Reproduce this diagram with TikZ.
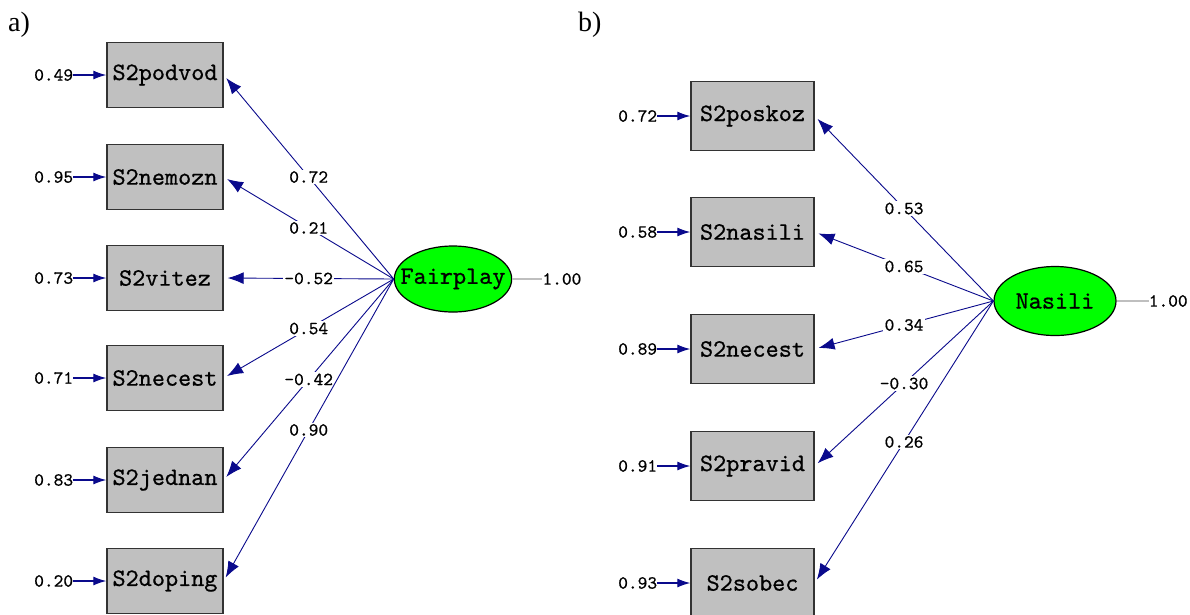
\documentclass[tikz,border=0pt]{standalone}
\usepackage{fontspec}
\setmainfont{Liberation Serif}
\newfontfamily\lisrel{lmmono10-regular.otf}[FakeBold=0.7]
\usetikzlibrary{shapes.geometric,arrows.meta,positioning}
\definecolor{path}{HTML}{0A0A8C}
\definecolor{boxgray}{HTML}{C0C0C0}
\definecolor{latgreen}{HTML}{00FF00}
\tikzset{
    obs/.style={draw=black!80, line width=1.4pt, fill=boxgray, inner sep=0pt,
        font=\lisrel\fontsize{25}{25}\selectfont},
    latent/.style={ellipse, draw=black, line width=1.2pt, fill=latgreen,
        inner xsep=-11pt, inner ysep=0pt, font=\lisrel\fontsize{25}{25}\selectfont},
    coef/.style={fill=white, inner sep=1.5pt, font=\lisrel\fontsize{18.5}{18.5}\selectfont},
    errlabel/.style={inner sep=0pt, font=\lisrel\fontsize{18.5}{18.5}\selectfont},
    loadarrow/.style={draw=path, line width=0.9pt, shorten >=4pt,
        -{Latex[length=16pt,width=12pt]}},
    errarrow/.style={draw=path, line width=1.2pt,
        -{Latex[length=13pt,width=9pt]}},
    varline/.style={draw=black!25, line width=1.1pt}
}
\newcommand{\indicator}[6]{
    \node[obs, minimum width=#5, minimum height=#6] (#1) at (#2) {#3};
    \node[errlabel, left=33pt of #1] (#1e) {#4};
    \draw[errarrow] (#1e) -- (#1);
}
\newcommand{\loading}[3]{
    \draw[loadarrow] (#1.west) -- node[coef]{#3} (#2.east);
}

\begin{document}
\begin{tikzpicture}[x=1pt, y=-1pt]
	\useasboundingbox (0,0) rectangle (1190,614);
	\fill[white] (0,0) rectangle (1190,614);

	\node[anchor=base west, inner sep=0pt, font=\fontsize{28}{28}\selectfont] (parta) at (8,31) {a)};
	\node[anchor=base west, inner sep=0pt, font=\fontsize{28}{28}\selectfont] (partb) at (578,31) {b)};

	\indicator{podvod}{165,75}{S2podvod}{0.49}{116}{65};
	\indicator{nemozn}{165,177}{S2nemozn}{0.95}{116}{65};
	\indicator{vitez}{165,278}{S2vitez}{0.73}{116}{65};
	\indicator{necestA}{165,378}{S2necest}{0.71}{116}{65};
	\indicator{jednan}{165,480}{S2jednan}{0.83}{116}{65};
	\indicator{doping}{165,581}{S2doping}{0.20}{116}{65};

	\node[latent, minimum width=117, minimum height=66] (fair) at (453,279) {Fairplay};
	\node[errlabel, right=30pt of fair] (fairvar) {1.00};
	\draw[varline] (fair) -- (fairvar);

	\loading{fair}{podvod}{0.72};
	\loading{fair}{nemozn}{0.21};
	\loading{fair}{vitez}{-0.52};
	\loading{fair}{necestA}{0.54};
	\loading{fair}{jednan}{-0.42};
	\loading{fair}{doping}{0.90};

	\indicator{poskoz}{752.5,116}{S2poskoz}{0.72}{123}{69};
	\indicator{nasili}{752.5,232}{S2nasili}{0.58}{123}{69};
	\indicator{necestB}{752.5,349}{S2necest}{0.89}{123}{69};
	\indicator{pravid}{752.5,466}{S2pravid}{0.91}{123}{69};
	\indicator{sobec}{752.5,583}{S2sobec}{0.93}{123}{69};

	\node[latent, minimum width=122, minimum height=69] (nas) at (1055,301) {Nasili};
	\node[errlabel, right=32pt of nas] (nasvar) {1.00};
	\draw[varline] (nas) -- (nasvar);

	\loading{nas}{poskoz}{0.53};
	\loading{nas}{nasili}{0.65};
	\loading{nas}{necestB}{0.34};
	\loading{nas}{pravid}{-0.30};
	\loading{nas}{sobec}{0.26};
\end{tikzpicture}
\end{document}
